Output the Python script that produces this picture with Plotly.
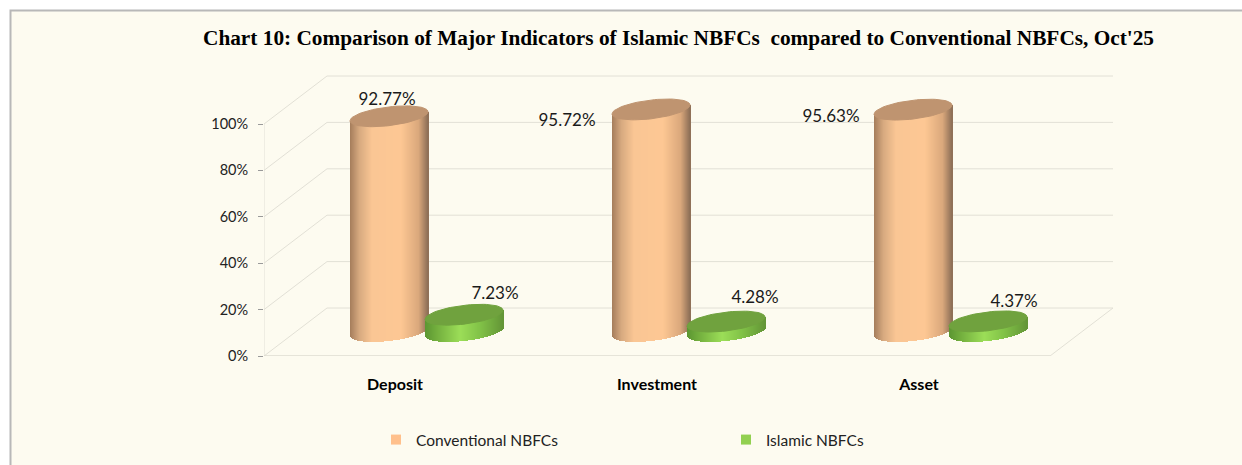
import numpy as np
import plotly.graph_objects as go

# ---- data ----
categories = ["Deposit", "Investment", "Asset"]
conventional = [92.77, 95.72, 95.63]
islamic = [7.23, 4.28, 4.37]
y_ticks = [0, 20, 40, 60, 80, 100]
y_tick_labels = ["0%", "20%", "40%", "60%", "80%", "100%"]
title_text = "Chart 10: Comparison of Major Indicators of Islamic NBFCs\u00a0 compared to Conventional NBFCs, Oct'25"

# ---- layout geometry (pixels) ----
W, H = 1242, 465
X0, Y0 = 264, 356          # front-left floor corner
PX_CAT = 262.0             # px per category
PX_Y = 2.32                # px per percent
DEPTH_X, DEPTH_Y = 63, 48  # perspective shift of the back wall
TOP_Y = 60
x_lo, x_hi = -0.5, (W - X0) / PX_CAT - 0.5
y_hi = (Y0 - TOP_Y) / PX_Y
dep_x, dep_y = DEPTH_X / PX_CAT, DEPTH_Y / PX_Y
BASE = 24.5 / PX_Y         # bar base raised off the front edge
RX, TILT, RY = 39.0, 4.5, 9.4

BG = "#FDFBF0"
GRID = "#E2E0D6"
FONT = "Lato"


def shade(stops, t):
    ts, cs = zip(*stops)
    return "rgb(%d,%d,%d)" % tuple(np.interp(t, ts, [c[i] for c in cs]) for i in range(3))


ORANGE = [(0, (165, 125, 92)), (0.12, (215, 170, 128)), (0.28, (250, 198, 148)), (0.65, (254, 200, 148)),
          (0.88, (218, 168, 124)), (1, (140, 110, 86))]
GREEN = [(0, (92, 150, 50)), (0.15, (115, 175, 62)), (0.45, (156, 222, 88)), (0.7, (130, 195, 72)),
         (1, (100, 150, 55))]


def cylinders(values, shift_px, stops, top_color, name):
    xs, ys, bases, cols = [], [], [], []
    for c, v in enumerate(values):
        for dx in np.arange(-RX + 0.5, RX, 1.0):
            u = dx / RX
            low = (-TILT * u + RY * np.sqrt(1 - u * u)) / PX_Y   # lower rim, in percent units
            xs.append(c + (shift_px + dx) / PX_CAT)
            bases.append(BASE - low)
            ys.append(v + low + TILT * u / PX_Y)
            cols.append(shade(stops, (u + 1) / 2))
    body = go.Bar(x=xs, y=ys, base=bases, width=2.0 / PX_CAT, marker=dict(color=cols, line=dict(width=0)),
                  showlegend=False, hoverinfo="skip", name=name)
    tops = []
    t = np.linspace(0, 2 * np.pi, 73)
    for c, v in enumerate(values):
        ex = c + (shift_px + RX * np.cos(t)) / PX_CAT
        ey = BASE + v + (TILT * np.cos(t) + RY * np.sin(t)) / PX_Y
        tops.append(go.Scatter(x=ex, y=ey, mode="lines", fill="toself", fillcolor=top_color,
                               line=dict(color=top_color, width=1), showlegend=False,
                               hoverinfo="skip", name=name))
    return [body] + tops


fig = go.Figure()
for tr in cylinders(conventional, -6, ORANGE, "#BF9470", "Conventional NBFCs"):
    fig.add_trace(tr)
for tr in cylinders(islamic, 69, GREEN, "#70A23E", "Islamic NBFCs"):
    fig.add_trace(tr)

# data labels: offsets (px) from the cylinder's centre
label_off = {
    "conv": [(-2, 16), (-84, -12), (-82, -8)],
    "isl": [(31, 20), (29, 23), (26, 19)],
}
for vals, shift, offs in ((conventional, -6, label_off["conv"]), (islamic, 69, label_off["isl"])):
    fig.add_trace(go.Scatter(
        x=[c + (shift + o[0]) / PX_CAT for c, o in enumerate(offs)],
        y=[BASE + v + o[1] / PX_Y for v, o in zip(vals, offs)],
        mode="text", text=[f"{v:.2f}%" for v in vals],
        textfont=dict(family=FONT, size=17, color="#1a1a1a"),
        textposition="middle center", showlegend=False, hoverinfo="skip"))

# legend entries
fig.add_trace(go.Scatter(x=[None], y=[None], mode="markers", name="Conventional NBFCs",
                         marker=dict(symbol="square", size=10, color="#FFC08C")))
fig.add_trace(go.Scatter(x=[None], y=[None], mode="markers", name="Islamic NBFCs",
                         marker=dict(symbol="square", size=10, color="#92D050")))

# frame
shapes = [dict(type="rect", xref="paper", yref="paper", x0=10.5 / W, x1=1.01, y0=-0.01, y1=1 - 10.5 / H,
               fillcolor=BG, line=dict(color="#B8B8B8", width=2), layer="below")]
# walls and floor, built from the axes
line = dict(color=GRID, width=1)
for v in y_ticks:
    shapes.append(dict(type="line", x0=x_lo, x1=x_lo + dep_x, y0=v, y1=v + dep_y, line=line, layer="below"))
    shapes.append(dict(type="line", x0=x_lo + dep_x, x1=2.5 + dep_x, y0=v + dep_y, y1=v + dep_y, line=line, layer="below"))
shapes.append(dict(type="line", x0=x_lo, x1=2.5, y0=0, y1=0, line=dict(color="#CFCDC3", width=1), layer="below"))
shapes.append(dict(type="line", x0=2.5, x1=2.5 + dep_x, y0=0, y1=dep_y, line=line, layer="below"))
shapes.append(dict(type="line", x0=x_lo, x1=x_lo, y0=0, y1=100, line=line, layer="below"))

fig.update_layout(
    width=W, height=H, margin=dict(l=0, r=0, t=0, b=0, autoexpand=False),
    paper_bgcolor="white", plot_bgcolor="rgba(0,0,0,0)",
    barmode="overlay", bargap=0, shapes=shapes, hovermode=False,
    title=dict(text=title_text, x=203 / W, y=1 - 38 / H, xanchor="left", yanchor="middle",
               font=dict(family="Liberation Serif", size=21.3, color="black", weight="bold")),
    xaxis=dict(domain=[X0 / W, 1], range=[x_lo, x_hi], tickmode="array", tickvals=[0, 1, 2], ticktext=categories,
               showgrid=False, zeroline=False, showline=False, ticks="", ticklabelstandoff=17,
               tickfont=dict(family=FONT, size=16, color="black", weight="bold")),
    yaxis=dict(domain=[1 - Y0 / H, 1 - TOP_Y / H], range=[0, y_hi], tickmode="array", tickvals=y_ticks,
               ticktext=y_tick_labels,
               showgrid=False, zeroline=False, showline=False, ticks="outside", ticklen=5, tickcolor="#9a9a9a",
               ticklabelstandoff=7, tickfont=dict(family=FONT, size=14.5, color="#222")),
    legend=dict(orientation="h", x=376 / W, y=1 - 440 / H, xanchor="left", yanchor="middle",
                entrywidth=305, entrywidthmode="pixels", bgcolor="rgba(0,0,0,0)",
                font=dict(family=FONT, size=15.5, color="#222")),
)
fig.write_html("out.html", config={"displayModeBar": False},
               post_script="document.body.style.margin='0';document.body.style.overflow='hidden';")
